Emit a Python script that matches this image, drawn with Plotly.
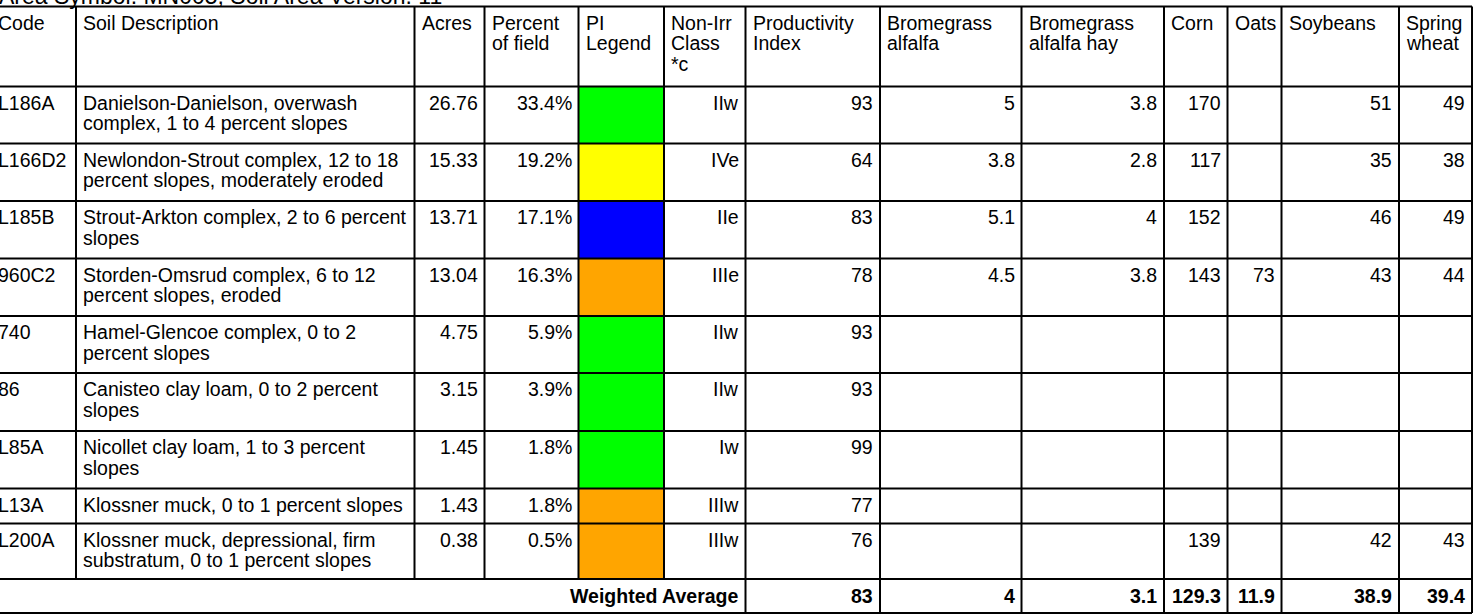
import plotly.graph_objects as go

# ---------------- data ----------------
caption = "Area Symbol: MN005, Soil Area Version: 11"
headers = [
    ["Code"], ["Soil Description"], ["Acres"], ["Percent", "of field"],
    ["PI", "Legend"], ["Non-Irr", "Class", "*c"], ["Productivity", "Index"],
    ["Bromegrass", "alfalfa"], ["Bromegrass", "alfalfa hay"], ["Corn"],
    ["Oats"], ["Soybeans"], ["Spring", "wheat"],
]
codes = ["L186A", "L166D2", "L185B", "960C2", "740", "86", "L85A", "L13A", "L200A"]
descriptions = [
    ["Danielson-Danielson, overwash", "complex, 1 to 4 percent slopes"],
    ["Newlondon-Strout complex, 12 to 18", "percent slopes, moderately eroded"],
    ["Strout-Arkton complex, 2 to 6 percent", "slopes"],
    ["Storden-Omsrud complex, 6 to 12", "percent slopes, eroded"],
    ["Hamel-Glencoe complex, 0 to 2", "percent slopes"],
    ["Canisteo clay loam, 0 to 2 percent", "slopes"],
    ["Nicollet clay loam, 1 to 3 percent", "slopes"],
    ["Klossner muck, 0 to 1 percent slopes"],
    ["Klossner muck, depressional, firm", "substratum, 0 to 1 percent slopes"],
]
acres = [26.76, 15.33, 13.71, 13.04, 4.75, 3.15, 1.45, 1.43, 0.38]
percent_of_field = [33.4, 19.2, 17.1, 16.3, 5.9, 3.9, 1.8, 1.8, 0.5]
pi_legend = ["#00FF00", "#FFFF00", "#0000FF", "#FFA500", "#00FF00",
             "#00FF00", "#00FF00", "#FFA500", "#FFA500"]
non_irr_class = ["IIw", "IVe", "IIe", "IIIe", "IIw", "IIw", "Iw", "IIIw", "IIIw"]
productivity_index = [93, 64, 83, 78, 93, 93, 99, 77, 76]
bromegrass_alfalfa = [5, 3.8, 5.1, 4.5, None, None, None, None, None]
bromegrass_alfalfa_hay = [3.8, 2.8, 4, 3.8, None, None, None, None, None]
corn = [170, 117, 152, 143, None, None, None, None, 139]
oats = [None, None, None, 73, None, None, None, None, None]
soybeans = [51, 35, 46, 43, None, None, None, None, 42]
spring_wheat = [49, 38, 49, 44, None, None, None, None, 43]
weighted_label = "Weighted Average"
weighted_avg = [83, 4, 3.1, 129.3, 11.9, 38.9, 39.4]

# ---------------- layout (pixel geometry) ----------------
W, H = 1474, 614
col_edges = [-12, 76, 414.5, 484.5, 578.5, 664, 745.5, 880, 1021.5,
             1164, 1227.5, 1281.5, 1399, 1472]
align = ["left", "left"] + ["right"] * 11
header_top = 6.5
header_h = 80
row_heights = [57, 57.5, 57.5, 57.5, 57, 58, 57.5, 35, 55.5]
weighted_h = 34
FONT = "Liberation Sans, Arial, sans-serif"
FS = 19.5
LINE_H = 20.5
BASE_OFF = 23.0
MID_K = 6.7
PAD_L = 7.3
PAD_R = 7.0
LINE_W = 2
LINE_C = "#000000"
CODE_SHIFT = -2.5


def fmt(v, spec="g"):
    if v is None:
        return ""
    return format(v, spec)


annotations = []
shapes = []


def text_ann(x, y, txt, xanchor, xshift=0, yshift=0, size=FS):
    return dict(x=x, y=y, xref="x", yref="y", text=txt, showarrow=False,
                xanchor=xanchor, yanchor="middle", borderpad=0, borderwidth=0,
                xshift=xshift, yshift=yshift,
                font=dict(family=FONT, size=size, color="#000000"))


def add_text(lines, col, top, bold=False):
    left, right = col_edges[col], col_edges[col + 1]
    a = align[col]
    for i, t in enumerate(lines):
        if t == "":
            continue
        yy = top + BASE_OFF + i * LINE_H - MID_K
        txt = f"<b>{t}</b>" if bold else t
        if col == 0:
            # code column begins left of the visible area: anchor at edge
            annotations.append(text_ann(0, yy, txt, "left", xshift=CODE_SHIFT))
        else:
            x = (left + PAD_L) if a == "left" else (right - PAD_R)
            annotations.append(text_ann(x, yy, txt, a))


# caption (partially cut off at top, as in the source)
annotations.append(text_ann(0, 0, caption, "left", xshift=-1, yshift=4, size=23))

# header
for c, lines in enumerate(headers):
    left = col_edges[c]
    for i, t in enumerate(lines):
        yy = header_top + BASE_OFF + i * LINE_H - MID_K
        if c == 0:
            annotations.append(text_ann(0, yy, t, "left", xshift=CODE_SHIFT))
        else:
            annotations.append(text_ann(left + PAD_L, yy, t, "left"))

# body rows
row_tops = []
y = header_top + header_h
for h in row_heights:
    row_tops.append(y)
    y += h
weighted_top = y
bottom = weighted_top + weighted_h

for r in range(len(codes)):
    top = row_tops[r]
    bot = top + row_heights[r]
    cells = [
        [codes[r]], descriptions[r], [fmt(acres[r], ".2f")],
        [fmt(percent_of_field[r], ".1f") + "%"], None,
        [non_irr_class[r]], [fmt(productivity_index[r])],
        [fmt(bromegrass_alfalfa[r])], [fmt(bromegrass_alfalfa_hay[r])],
        [fmt(corn[r])], [fmt(oats[r])], [fmt(soybeans[r])],
        [fmt(spring_wheat[r])],
    ]
    for c, lines in enumerate(cells):
        if c == 4:
            shapes.append(dict(
                type="rect", xref="x", yref="y", layer="below",
                x0=col_edges[4], x1=col_edges[5], y0=top, y1=bot,
                fillcolor=pi_legend[r], line=dict(width=0)))
            continue
        add_text(lines, c, top)

# weighted average row
wy = weighted_top + BASE_OFF + 0.8 - MID_K
annotations.append(text_ann(col_edges[6] - PAD_R - 0.5, wy,
                            f"<b>{weighted_label}</b>", "right"))
for k, v in enumerate(weighted_avg):
    c = 6 + k
    annotations.append(text_ann(col_edges[c + 1] - PAD_R, wy,
                                f"<b>{fmt(v)}</b>", "right"))

# grid lines
line_style = dict(color=LINE_C, width=LINE_W)
h_lines = ([header_top, header_top + header_h]
           + [t + h for t, h in zip(row_tops, row_heights)] + [bottom])
for yy in h_lines:
    shapes.append(dict(type="line", xref="x", yref="y", layer="above",
                       x0=col_edges[0], x1=col_edges[-1], y0=yy, y1=yy,
                       line=line_style))
for xx in col_edges:
    shapes.append(dict(type="line", xref="x", yref="y", layer="above",
                       x0=xx, x1=xx, y0=header_top, y1=weighted_top,
                       line=line_style))
for xx in col_edges[6:]:
    shapes.append(dict(type="line", xref="x", yref="y", layer="above",
                       x0=xx, x1=xx, y0=weighted_top, y1=bottom,
                       line=line_style))

fig = go.Figure()
fig.add_trace(go.Scatter(x=[0], y=[0], mode="markers",
                         marker=dict(opacity=0), hoverinfo="skip",
                         showlegend=False))
fig.update_layout(
    width=W, height=H,
    margin=dict(l=0, r=0, t=0, b=0, pad=0),
    paper_bgcolor="white", plot_bgcolor="white",
    xaxis=dict(range=[0, W], visible=False, fixedrange=True),
    yaxis=dict(range=[H, 0], visible=False, fixedrange=True),
    showlegend=False,
    annotations=annotations,
    shapes=shapes,
)
fig.write_html(
    "out.html",
    config=dict(displayModeBar=False),
    post_script="document.body.style.margin='0';document.body.style.overflow='hidden';",
)
